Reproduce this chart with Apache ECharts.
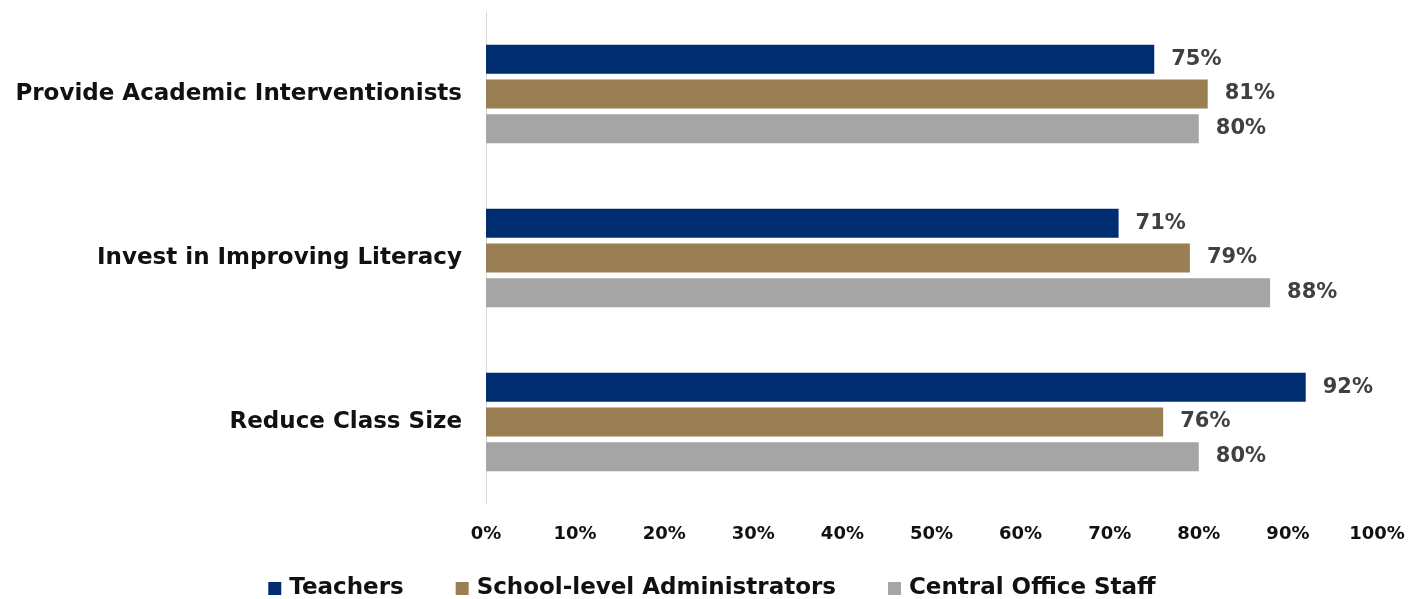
<!DOCTYPE html>
<html><head><meta charset="utf-8">
<script src="https://cdn.jsdelivr.net/npm/echarts@6/dist/echarts.min.js"></script>
<style>html,body{margin:0;padding:0;background:#fff}#c{width:1424px;height:599px}</style>
</head><body><div id="c"></div>
<script>
const categories = ['Provide Academic Interventionists', 'Invest in Improving Literacy', 'Reduce Class Size'];
const seriesNames = ['Teachers', 'School-level Administrators', 'Central Office Staff'];
const teachers = [75, 71, 92];
const administrators = [81, 79, 76];
const centralOffice = [80, 88, 80];
const colors = ['#002D72', '#9A7F55', '#A5A5A5'];
const FONT = '"DejaVu Sans", sans-serif';

const chart = echarts.init(document.getElementById('c'));
const mk = (name, data, color) => ({
  name, type: 'bar', data, barWidth: 29, barGap: '20%',
  itemStyle: { color },
  label: { show: true, position: 'right', distance: 17, formatter: '{c}%',
    color: '#404040', fontFamily: FONT, fontWeight: 'bold', fontSize: 21 }
});
chart.setOption({
  animation: false,
  grid: { left: 486, right: 47, top: 12, bottom: 95 },
  legend: { top: 572, left: 'center', itemWidth: 13, itemHeight: 13, itemGap: 52, icon: 'rect',
    textStyle: { fontFamily: FONT, fontWeight: 'bold', fontSize: 23, color: '#111', padding: [0, 0, 0, 3] } },
  xAxis: { type: 'value', min: 0, max: 100, interval: 10,
    axisLine: { show: false }, axisTick: { show: false }, splitLine: { show: false },
    axisLabel: { formatter: '{value}%', margin: 21, fontFamily: FONT, fontWeight: 'bold', fontSize: 18, color: '#111' } },
  yAxis: { type: 'category', data: categories, inverse: true,
    axisLine: { show: true, lineStyle: { color: '#d9d9d9', width: 1 } }, axisTick: { show: false },
    axisLabel: { margin: 24, fontFamily: FONT, fontWeight: 'bold', fontSize: 23, color: '#111' } },
  series: [mk(seriesNames[0], teachers, colors[0]), mk(seriesNames[1], administrators, colors[1]), mk(seriesNames[2], centralOffice, colors[2])]
});
</script></body></html>
